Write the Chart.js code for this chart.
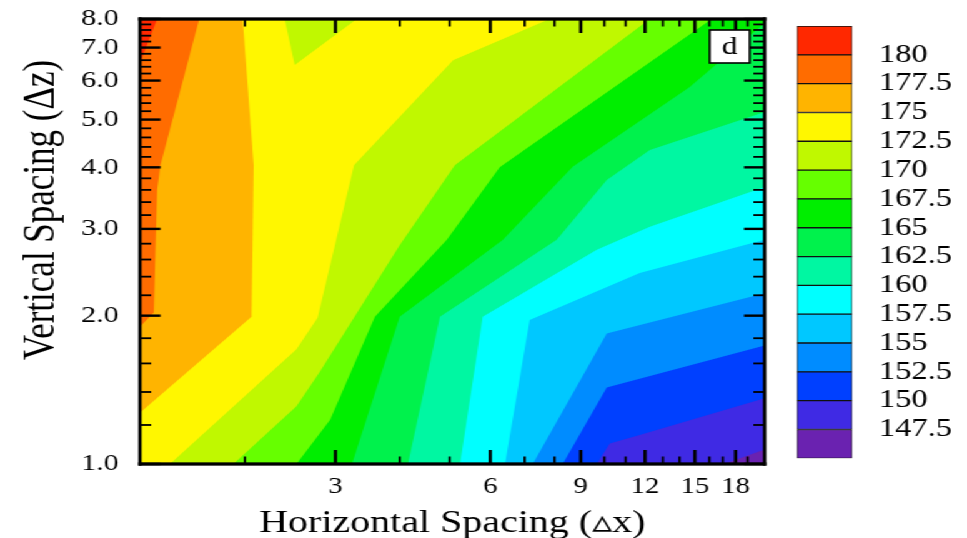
<!DOCTYPE html>
<html><head><meta charset="utf-8">
<script src="https://cdn.jsdelivr.net/npm/chart.js@4.4.1/dist/chart.umd.min.js"></script>
<style>
html,body{margin:0;padding:0;background:#fff;overflow:hidden;}
#wrap{position:relative;width:774px;height:538px;transform:scale(1.2494,1);transform-origin:0 0;}
#main{position:absolute;left:0;top:0;width:774px;height:538px;}
#cb{position:absolute;left:624px;top:0;width:150px;height:538px;}
</style></head><body>
<div id="wrap"><canvas id="main" width="774" height="538"></canvas><canvas id="cb" width="150" height="538"></canvas></div>
<script>
const FONT = "'Liberation Serif','Times New Roman',serif";

// contour levels and band colours (band i lies between levels i-1 and i)
const levels = [147.5,150,152.5,155,157.5,160,162.5,165,167.5,170,172.5,175,177.5,180];
const bandColors = ['#6a22b0','#3f2ae4','#0040ff','#008cff','#00c8ff','#00ffff','#00f7a2','#00f24c','#00ee00','#66ff00','#c0f800','#fff700','#ffb400','#ff6c00','#ff2800'];

// axes
const xRange = [1.25, 20.5];
const zRange = [1, 8];
const xTicks = [3,6,9,12,15,18];
const xMinorTicks = [2,4,5,7,8,10,11,13,14,16,17,19];
const zTicks = [1,2,3,4,5,6,7,8];
const zMinorTicks = [1.2,1.4,1.6,1.8,2.2,2.4,2.6,2.8,3.2,3.4,3.6,3.8,4.2,4.4,4.6,4.8,5.2,5.4,5.6,5.8,6.2,6.4,6.6,6.8,7.2,7.4,7.6,7.8];

// contour lines [horizontal spacing, vertical spacing]; higher values lie to the upper left
const contour147_5 = [[17.1,1],[20.5,1.07]];
const contour150   = [[9.67,1],[10.25,1.10],[11.72,1.145],[20.5,1.36]];
const contour152_5 = [[8.30,1],[10.11,1.43],[20.5,1.74]];
const contour155   = [[7.26,1],[10.11,1.84],[20.5,2.22]];
const contour157_5 = [[6.41,1],[7.16,1.96],[11.72,2.44],[20.5,2.85]];
const contour160   = [[5.24,1],[5.80,1.99],[9.67,2.72],[12.26,3.03],[20.5,3.65]];
const contour162_5 = [[4.15,1],[4.79,1.99],[8.08,2.85],[10.11,3.77],[12.26,4.34],[20.5,5.18]];
const contour165   = [[3.23,1],[4.00,1.99],[6.35,2.85],[8.68,4.01],[14.66,5.82],[20.5,7.85]];
const contour167_5 = [[2.52,1],[2.93,1.23],[3.58,1.99],[4.94,2.85],[6.26,4.0],[16.18,8]];
const contour170   = [[1.90,1],[2.52,1.31],[2.80,1.54],[4.0,2.78],[5.12,4.04],[12.26,8]];
const contour172_5 = [[1.43,1],[2.52,1.71],[2.77,1.98],[3.26,4.04],[5.08,6.6],[7.83,8]];
const contour175   = [[1.25,1.27],[2.06,1.99],[2.08,4.04],[1.98,8]];
const contour177_5 = [[1.25,1.90],[1.33,2.03],[1.34,2.72],[1.35,3.6],[1.37,4.04],[1.63,8]];
const contour180   = [[1.25,6.51],[1.35,8]];
// closed pocket of 170-172.5 touching the top edge
const island170 = [[2.39,8],[2.50,6.45],[3.30,8]];

const contours = [contour147_5,contour150,contour152_5,contour155,contour157_5,contour160,contour162_5,contour165,contour167_5,contour170,contour172_5,contour175,contour177_5,contour180];

function regionAbove(line) {
  const pts = line.map(([x, z]) => ({x, y: z}));
  const first = line[0], last = line[line.length - 1];
  if (last[0] >= xRange[1]) pts.push({x: xRange[1], y: zRange[1]});
  pts.push({x: xRange[0], y: zRange[1]});
  if (first[1] <= zRange[0]) pts.push({x: xRange[0], y: zRange[0]});
  return pts;
}
const polyStyle = {showLine: true, fill: 'shape', borderWidth: 0, pointRadius: 0, tension: 0};
const datasets = [];
datasets.push(Object.assign({data: [{x:xRange[0],y:zRange[0]},{x:xRange[1],y:zRange[0]},{x:xRange[1],y:zRange[1]},{x:xRange[0],y:zRange[1]}], backgroundColor: bandColors[0], order: 0}, polyStyle));
contours.forEach((c, i) => {
  datasets.push(Object.assign({data: regionAbove(c), backgroundColor: bandColors[i + 1], order: -levels[i]}, polyStyle));
});
datasets.push(Object.assign({data: island170.map(([x, z]) => ({x, y: z})), backgroundColor: bandColors[levels.indexOf(170) + 1], order: -172.6}, polyStyle));

const framePlugin = {
  id: 'frame',
  afterDraw(chart) {
    const {ctx, chartArea: a} = chart;
    const sx = chart.scales.x, sy = chart.scales.y;
    ctx.save();
    ctx.fillStyle = '#000';
    for (const v of xTicks) { const p = sx.getPixelForValue(v); ctx.fillRect(p - 1.3, a.bottom - 14, 2.6, 14); ctx.fillRect(p - 1.3, a.top, 2.6, 14); }
    for (const v of xMinorTicks) { const p = sx.getPixelForValue(v); ctx.fillRect(p - 0.9, a.bottom - 7.5, 1.8, 7.5); ctx.fillRect(p - 0.9, a.top, 1.8, 7.5); }
    for (const v of zTicks) { const p = sy.getPixelForValue(v); ctx.fillRect(a.left, p - 1.2, 16.5, 2.4); ctx.fillRect(a.right - 16.5, p - 1.2, 16.5, 2.4); }
    for (const v of zMinorTicks) { const p = sy.getPixelForValue(v); ctx.fillRect(a.left, p - 0.9, 9, 1.8); ctx.fillRect(a.right - 9, p - 0.9, 9, 1.8); }
    const lw = 2.7, lh = 3.3;
    ctx.fillRect(a.left - lw / 2, a.top - lh / 2, lw, a.height + lh);
    ctx.fillRect(a.right - lw / 2, a.top - lh / 2, lw, a.height + lh);
    ctx.fillRect(a.left - lw / 2, a.top - lh / 2, a.width + lw, lh);
    ctx.fillRect(a.left - lw / 2, a.bottom - lh / 2, a.width + lw, lh);
    // panel label
    const bx = a.right - 44, by = a.top + 11, bw = 32, bh = 33;
    ctx.fillStyle = '#fff';
    ctx.fillRect(bx, by, bw, bh);
    ctx.lineWidth = 1.6; ctx.strokeStyle = '#000';
    ctx.strokeRect(bx, by, bw, bh);
    ctx.fillStyle = '#000';
    ctx.font = '25px ' + FONT;
    ctx.textAlign = 'center'; ctx.textBaseline = 'middle';
    ctx.fillText('d', bx + bw / 2, by + bh / 2 + 1);
    // vertical axis title
    ctx.translate(33.6, 210);
    ctx.rotate(-Math.PI / 2);
    ctx.font = '35px ' + FONT;
    ctx.fillText('Vertical Spacing (\u0394z)', 0, 0);
    ctx.restore();
  }
};

new Chart(document.getElementById('main'), {
  type: 'scatter',
  data: {datasets},
  options: {
    responsive: false, animation: false, devicePixelRatio: 1,
    layout: {padding: {left: 0, right: 162, top: 19, bottom: 0}},
    plugins: {legend: {display: false}, tooltip: {enabled: false}},
    scales: {
      x: {
        type: 'logarithmic', min: xRange[0], max: xRange[1], position: 'bottom',
        grid: {display: false, drawTicks: false}, border: {display: false},
        ticks: {autoSkip: false, maxRotation: 0, padding: 11, color: '#000', font: {family: FONT, size: 23, lineHeight: 1}, callback: v => String(v)},
        afterBuildTicks: s => { s.ticks = xTicks.map(v => ({value: v})); },
        afterFit: s => { s.height = 74; s.paddingLeft = 0; s.paddingRight = 0; },
        title: {display: true, text: 'Horizontal Spacing (\u25B5x)', color: '#000', font: {family: FONT, size: 32, lineHeight: 1}, padding: {top: 0, bottom: -2}}
      },
      y: {
        type: 'logarithmic', min: zRange[0], max: zRange[1], position: 'left',
        grid: {display: false, drawTicks: false}, border: {display: false},
        ticks: {autoSkip: false, padding: 17, color: '#000', font: {family: FONT, size: 24, lineHeight: 1}, callback: v => Number(v).toFixed(1)},
        afterBuildTicks: s => { s.ticks = zTicks.map(v => ({value: v})); },
        afterFit: s => { s.width = 112; s.paddingTop = 0; s.paddingBottom = 0; }
      }
    }
  },
  plugins: [framePlugin]
});

const cbEdges = [145, ...levels, 182.5];
new Chart(document.getElementById('cb'), {
  type: 'bar',
  data: {labels: [''], datasets: bandColors.map((c, i) => ({data: [[cbEdges[i], cbEdges[i + 1]]], backgroundColor: c, borderColor: '#111', borderWidth: 1, borderSkipped: false, grouped: false, barPercentage: 1, categoryPercentage: 1}))},
  options: {
    responsive: false, animation: false, devicePixelRatio: 1,
    layout: {padding: {left: 13.8, right: 0, top: 26, bottom: 79.7}},
    plugins: {legend: {display: false}, tooltip: {enabled: false}},
    scales: {
      x: {display: false},
      y: {
        position: 'right', min: 145, max: 182.5,
        grid: {display: false}, border: {display: false},
        ticks: {padding: 13.2, color: '#000', font: {family: FONT, size: 26, lineHeight: 1}, callback: v => String(v)},
        afterBuildTicks: s => { s.ticks = levels.map(v => ({value: v})); },
        afterFit: s => { s.width = 91.8; s.paddingTop = 0; s.paddingBottom = 0; }
      }
    }
  }
});
</script></body></html>
